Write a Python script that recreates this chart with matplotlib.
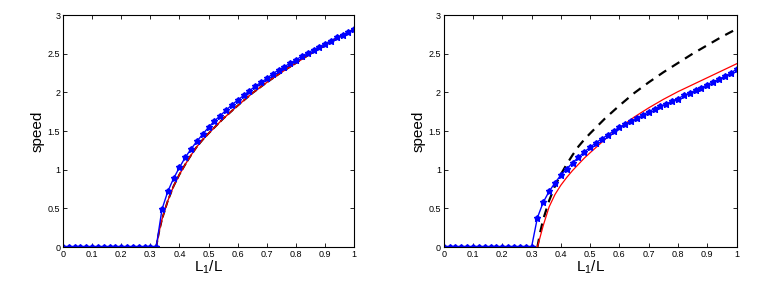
import matplotlib
matplotlib.use("Agg")
import matplotlib.pyplot as plt

plt.rcParams['font.family'] = ['Liberation Sans', 'DejaVu Sans']
plt.rcParams['mathtext.fontset'] = 'custom'
plt.rcParams['mathtext.rm'] = 'Liberation Sans'

x_blue = [round(0.02 * i, 2) for i in range(51)]

left_blue = [0.0] * 17 + [
    0.49, 0.72, 0.89, 1.03, 1.16, 1.27, 1.37, 1.46, 1.55, 1.63,
    1.70, 1.77, 1.84, 1.90, 1.96, 2.02, 2.08, 2.13, 2.18, 2.24,
    2.29, 2.33, 2.38, 2.42, 2.47, 2.51, 2.55, 2.59, 2.63, 2.67,
    2.71, 2.74, 2.78, 2.82]

x_theory = [0.0, 0.32, 0.33, 0.34, 0.36, 0.38, 0.40, 0.42, 0.44, 0.46, 0.48, 0.50,
            0.55, 0.60, 0.65, 0.70, 0.75, 0.80, 0.85, 0.90, 0.95, 1.00]
theory = [0.0, 0.0, 0.20, 0.36, 0.60, 0.79, 0.94, 1.07, 1.19, 1.30, 1.39, 1.47,
          1.66, 1.83, 1.99, 2.13, 2.26, 2.38, 2.50, 2.61, 2.72, 2.82]

right_blue = [0.0] * 16 + [
    0.38, 0.58, 0.72, 0.83, 0.93, 1.01, 1.09, 1.16, 1.23, 1.29,
    1.35, 1.40, 1.45, 1.50, 1.55,
    1.59, 1.63, 1.67, 1.71, 1.75,
    1.79, 1.82, 1.85, 1.89, 1.92,
    1.96, 1.99, 2.03, 2.06, 2.10,
    2.14, 2.17, 2.21, 2.25, 2.30]

x_red_right = [0.0, 0.32, 0.34, 0.36, 0.38, 0.40, 0.42, 0.44, 0.46, 0.48, 0.50,
               0.55, 0.60, 0.65, 0.70, 0.75, 0.80, 0.85, 0.90, 0.95, 1.00]
red_right = [0.0, 0.0, 0.28, 0.52, 0.68, 0.80, 0.90, 0.99, 1.07, 1.15, 1.22,
             1.39, 1.54, 1.68, 1.80, 1.91, 2.01, 2.10, 2.19, 2.28, 2.37]

xticks = [0, 0.1, 0.2, 0.3, 0.4, 0.5, 0.6, 0.7, 0.8, 0.9, 1]
xticklabels = ["0", "0.1", "0.2", "0.3", "0.4", "0.5", "0.6", "0.7", "0.8", "0.9", "1"]
yticks = [0, 0.5, 1, 1.5, 2, 2.5, 3]
yticklabels = ["0", "0.5", "1", "1.5", "2", "2.5", "3"]

fig = plt.figure(figsize=(7.77, 2.84), dpi=100)
ax1 = fig.add_axes([0.081, 0.130, 0.375, 0.817])
ax2 = fig.add_axes([0.571, 0.130, 0.377, 0.817])

ax1.plot(x_theory, theory, color="black", lw=1.4, ls="--")
ax1.plot(x_theory, theory, color="#e00000", lw=1.0)
ax1.plot(x_blue, left_blue, color="blue", lw=1.0, marker="o", markersize=3)
ax1.plot(x_blue, left_blue, color="blue", lw=0, marker="*", markersize=4.5)

ax2.plot(x_theory, theory, color="black", lw=1.6, ls=(0, (4, 3)))
ax2.plot(x_red_right, red_right, color="#ff0000", lw=0.9)
ax2.plot(x_blue, right_blue, color="blue", lw=1.0, marker="o", markersize=3)
ax2.plot(x_blue, right_blue, color="blue", lw=0, marker="*", markersize=4.5)

for ax in (ax1, ax2):
    ax.set_xlim(0, 1)
    ax.set_ylim(0, 3)
    ax.set_xticks(xticks)
    ax.set_xticklabels(xticklabels)
    ax.set_yticks(yticks)
    ax.set_yticklabels(yticklabels)
    ax.tick_params(direction="in", top=True, right=True, labelsize=6.5, length=3, width=0.6, pad=2)
    for s in ax.spines.values():
        s.set_linewidth(0.8)
    ax.set_xlabel(r"$\mathregular{L_1/L}$", fontsize=11, labelpad=0)
    ax.set_ylabel("speed", fontsize=11, labelpad=2)

fig.savefig("out.png", dpi=100)
